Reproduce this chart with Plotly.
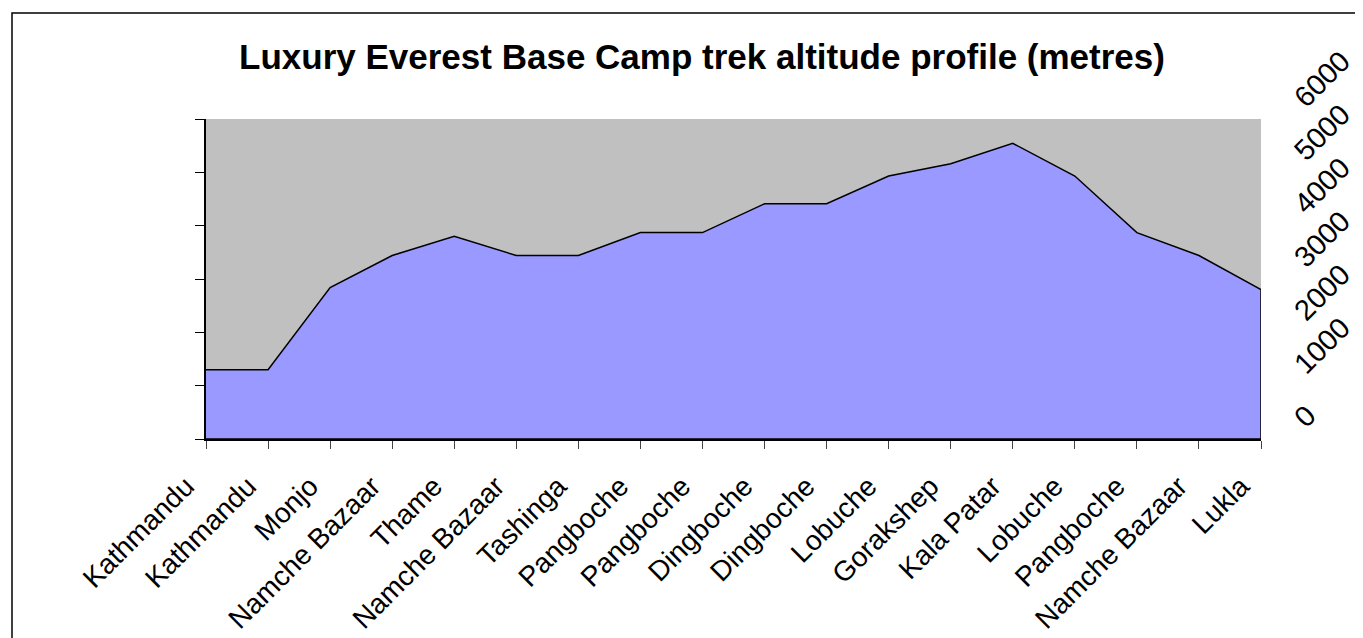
import plotly.graph_objects as go

# ---- data ----
stops = ["Kathmandu", "Kathmandu", "Monjo", "Namche Bazaar", "Thame", "Namche Bazaar",
         "Tashinga", "Pangboche", "Pangboche", "Dingboche", "Dingboche", "Lobuche",
         "Gorakshep", "Kala Patar", "Lobuche", "Pangboche", "Namche Bazaar", "Lukla"]
altitude = [1300, 1300, 2840, 3440, 3800, 3440, 3440, 3870, 3870, 4410, 4410, 4930,
            5160, 5545, 4930, 3870, 3440, 2800]
y_ticks = [0, 1000, 2000, 3000, 4000, 5000, 6000]
title_text = "Luxury Everest Base Camp trek altitude profile (metres)"

pos = list(range(len(stops)))
FONT = "Liberation Sans, Arial, sans-serif"

fig = go.Figure()
# area polygon (outline includes the right vertical edge, like the original)
fig.add_trace(go.Scatter(
    x=pos + [pos[-1], pos[0]],
    y=altitude + [0, 0],
    fill="toself", fillcolor="#9999FF",
    mode="lines", line=dict(color="black", width=1.5),
    cliponaxis=False, hoverinfo="skip", showlegend=False,
))
# invisible trace to carry the right-hand label axis
fig.add_trace(go.Scatter(x=pos, y=altitude, yaxis="y2", mode="none",
                         hoverinfo="skip", showlegend=False))

OFF = 8  # page body margin
W, H = 1363, 638
L, R, T, B = 206 - OFF, 1261 - OFF, 119 - OFF, 439 - OFF
pw, ph = R - L, B - T

fig.update_layout(
    width=W, height=H,
    margin=dict(l=L, r=W - R, t=T, b=H - B, pad=0),
    paper_bgcolor="white", plot_bgcolor="#C0C0C0",
    title=dict(text=title_text, x=(702 - OFF - L) / pw, xref="paper", xanchor="center",
               y=1 - (57 - OFF) / H, yanchor="middle",
               font=dict(family=FONT, size=35, color="black", weight="bold")),
    font=dict(family=FONT, color="black"),
    xaxis=dict(range=[pos[0], pos[-1]], tickvals=pos, ticktext=stops,
               tickangle=-45, ticks="outside", ticklen=8, tickcolor="#444",
               showline=True, linecolor="black", linewidth=1.5,
               ticklabelstandoff=10, ticklabelshift=-20,
               showgrid=False, zeroline=False, tickfont=dict(size=28)),
    yaxis=dict(range=[0, 6000], tickvals=y_ticks, ticks="outside", ticklen=9,
               tickcolor="black", showline=True, linecolor="black", linewidth=1.5,
               showticklabels=False, showgrid=False, zeroline=False),
    yaxis2=dict(range=[0, 6000], tickvals=y_ticks, ticktext=[str(v) for v in y_ticks],
                overlaying="y", side="right", tickangle=-45, ticks="",
                showline=False, showgrid=False, zeroline=False,
                ticklabelstandoff=34, ticklabelshift=-16,
                tickfont=dict(size=29)),
    shapes=[dict(type="rect", xref="paper", yref="paper",
                 x0=(12 - OFF - L) / pw, x1=(1385 - L) / pw,
                 y0=(B - 660) / ph, y1=(B - (13 - OFF)) / ph,
                 line=dict(color="black", width=1.5), layer="below")],
)

fig.write_html("out.html")
